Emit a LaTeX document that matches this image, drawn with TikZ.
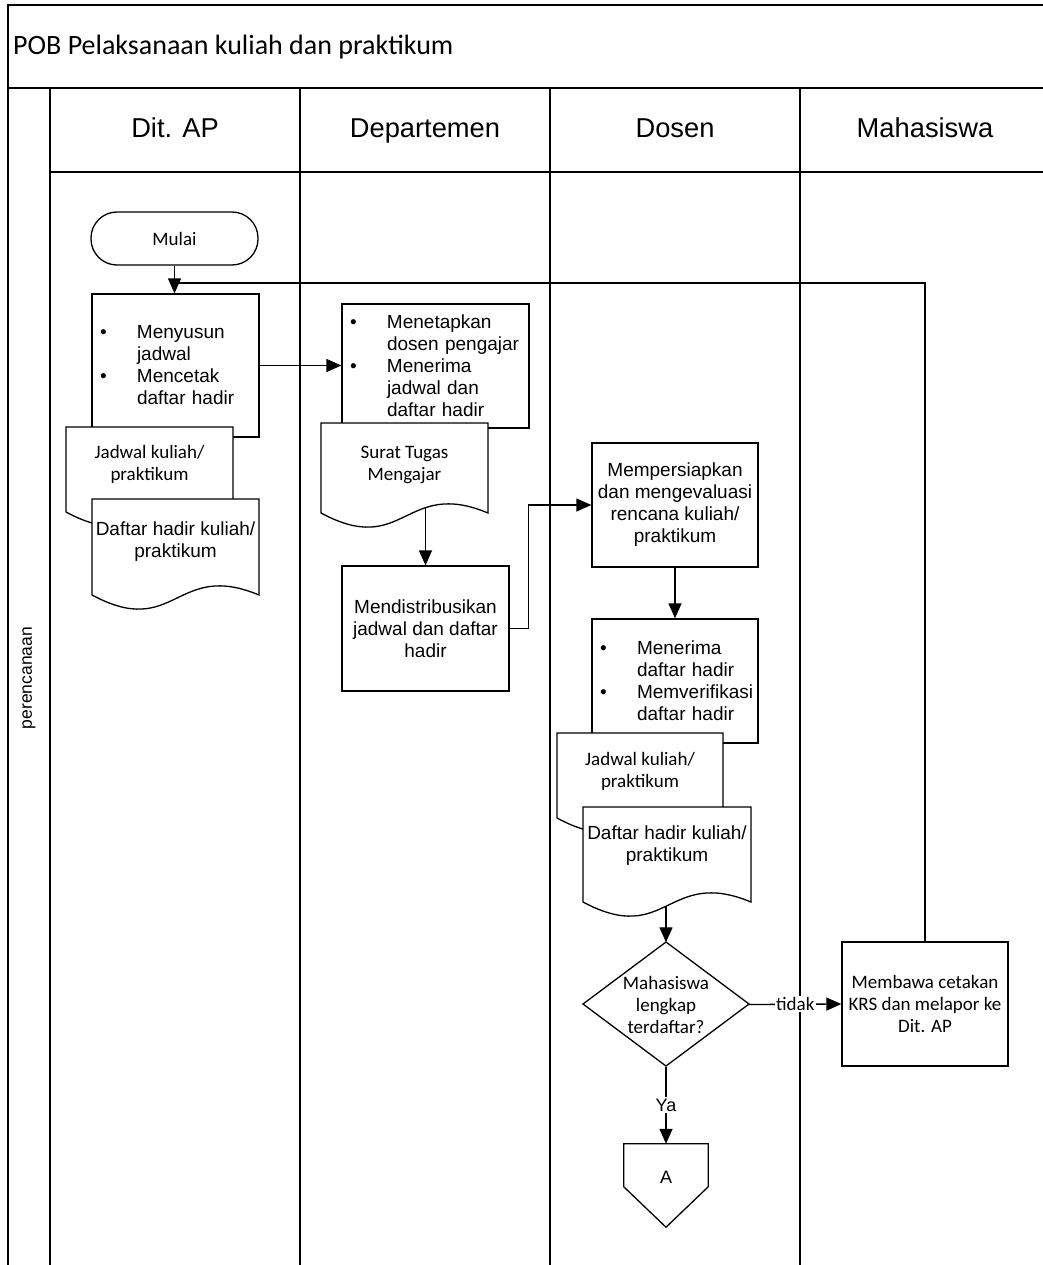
\documentclass[tikz,border=0pt]{standalone}
\usepackage{fontspec}
\setmainfont{Liberation Sans}
\newfontfamily\carl{Carlito}
\usetikzlibrary{calc,arrows.meta}
\pgfdeclarelayer{background}
\pgfsetlayers{background,main}
\newcommand\bulit{\makebox[37pt][l]{\textbullet}}
\newcommand\indt{\hspace*{37pt}}
\newcommand\docpath[4]{%
  \draw[docshape] (#1,#4) -- (#1,#2) -- (#3,#2) -- (#3,#4)
    .. controls ({(#1+#3)/2},{#4-35}) and ({(#1+#3)/2},{#4+45}) .. (#1,#4) -- cycle;}
\tikzset{
  ln/.style={line width=1.3pt},
  framel/.style={line width=1.6pt},
  arr/.style={ln,-{Triangle[length=15pt,width=13pt]}},
  arialf/.style={font=\fontsize{19}{22}\selectfont},
  calibf/.style={font=\carl\fontsize{19}{22}\selectfont},
  proc/.style={draw, ln, fill=white, rectangle, inner sep=0pt, align=center},
  bproc/.style={proc, align=left, inner xsep=8pt, inner ysep=0pt, arialf},
  termbox/.style={draw, ln, fill=white, rectangle, rounded corners=26pt, minimum width=167pt, minimum height=53pt, calibf},
  doctext/.style={align=center, inner sep=0pt},
  docshape/.style={draw, ln, fill=white},
  hdr/.style={font=\fontsize{27.3}{31}\selectfont, inner sep=0pt, anchor=base},
  lbl/.style={fill=white, inner sep=1.5pt}
}
\begin{document}
\begin{tikzpicture}[x=1pt,y=-1pt]
\useasboundingbox (0,0) rectangle (1043,1265);
% frame
\begin{pgfonlayer}{background}
\draw[framel] (8,1265) -- (8,5) -- (1043,5);
\draw[framel] (8,88) -- (1043,88);
\draw[framel] (50,172) -- (1043,172);
\draw[framel] (50,88) -- (50,1265);
\draw[framel] (300,88) -- (300,1265);
\draw[framel] (550,88) -- (550,1265);
\draw[framel] (800,88) -- (800,1265);
\end{pgfonlayer}
\node[anchor=base west, inner sep=0pt, font=\carl\fontsize{28}{33}\selectfont] (title) at (13,54.5) {POB Pelaksanaan kuliah dan praktikum};
\node[hdr] (h1) at (175,138) {Dit. AP};
\node[hdr] (h2) at (425,138) {Departemen};
\node[hdr] (h3) at (675,138) {Dosen};
\node[hdr] (h4) at (925,138) {Mahasiswa};
\node[rotate=90, inner sep=0pt, font=\fontsize{17.5}{20}\selectfont] (lane) at (29,678) {perencanaan};

% Dit. AP
\node[termbox] (mulai) at (174.5,238.5) {Mulai};
\node[bproc, text width=151pt, minimum height=143pt] (p1) at (175.5,365.5)
  {\bulit Menyusun\\\indt jadwal\\\bulit Mencetak\\\indt daftar hadir};
\docpath{66}{427}{233}{512}
\node[doctext, calibf] (jd1) at (149.5,464) {Jadwal kuliah/\\praktikum};
\docpath{92}{499}{259}{595}
\node[doctext, arialf] (dh1) at (175.5,542) {Daftar hadir kuliah/\\praktikum};

% Departemen
\node[bproc, text width=171pt, minimum height=124pt] (dep1) at (435.5,366)
  {\bulit Menetapkan\\\indt dosen pengajar\\\bulit Menerima\\\indt jadwal dan\\\indt daftar hadir};
\docpath{321}{423}{488}{513}
\node[doctext, calibf] (st) at (404.5,464.5) {Surat Tugas\\Mengajar};
\node[proc, arialf, minimum width=167pt, minimum height=125pt] (mend) at (425.5,628.5)
  {Mendistribusikan\\jadwal dan daftar\\hadir};

% Dosen
\node[proc, arialf, minimum width=166pt, minimum height=124pt] (dos1) at (675,505)
  {Mempersiapkan\\dan mengevaluasi\\rencana kuliah/\\praktikum};
\node[bproc, text width=150pt, minimum height=124pt] (dos2) at (675,681)
  {\bulit Menerima\\\indt daftar hadir\\\bulit Memverifikasi\\\indt daftar hadir};
\docpath{557}{733}{723}{818}
\node[doctext, calibf] (jd2) at (640,771.5) {Jadwal kuliah/\\praktikum};
\docpath{583}{807}{751}{902}
\node[doctext, arialf] (dh2) at (667,846) {Daftar hadir kuliah/\\praktikum};

\draw[docshape] (666,942) -- (749,1004) -- (666,1066) -- (583,1004) -- cycle;
\node[doctext, calibf, minimum width=166pt, minimum height=124pt] (dia) at (666,1004.5)
  {Mahasiswa\\lengkap\\terdaftar?};

\node[inner sep=0pt, minimum width=84pt, minimum height=83pt] (A) at (666,1185.5) {};
\draw[docshape] (A.north west) -- (A.north east) -- ($(A.north east)+(0,43)$) -- (A.south)
  -- ($(A.north west)+(0,43)$) -- cycle;
\node[inner sep=0pt, font=\fontsize{18}{20}\selectfont] (Atext) at (666,1177) {A};

% Mahasiswa
\node[proc, calibf, minimum width=166pt, minimum height=124pt] (krs) at (925,1004)
  {Membawa cetakan\\KRS dan melapor ke\\Dit. AP};

\coordinate (join) at (174.5,283);

\begin{pgfonlayer}{background}
\draw[arr] (mulai.south) -- (mulai.south |- p1.north);
\draw[ln] (krs.north) |- (join);
\draw[arr] (p1.east) -- (p1.east -| dep1.west);
\draw[arr] (mend.north |- st) -- (mend.north);
\draw[arr] (mend.east) -- ++(19,0) |- (dos1.west);
\draw[arr] (dos1.south) -- (dos2.north);
\draw[arr] (dia.north |- dh2) -- (dia.north);
\draw[arr] (dia.east) -- node[lbl, calibf] {tidak} (krs.west);
\draw[arr] (dia.south) -- node[lbl, font=\fontsize{18}{20}\selectfont] {Ya} (A.north);
\end{pgfonlayer}
\end{tikzpicture}
\end{document}
